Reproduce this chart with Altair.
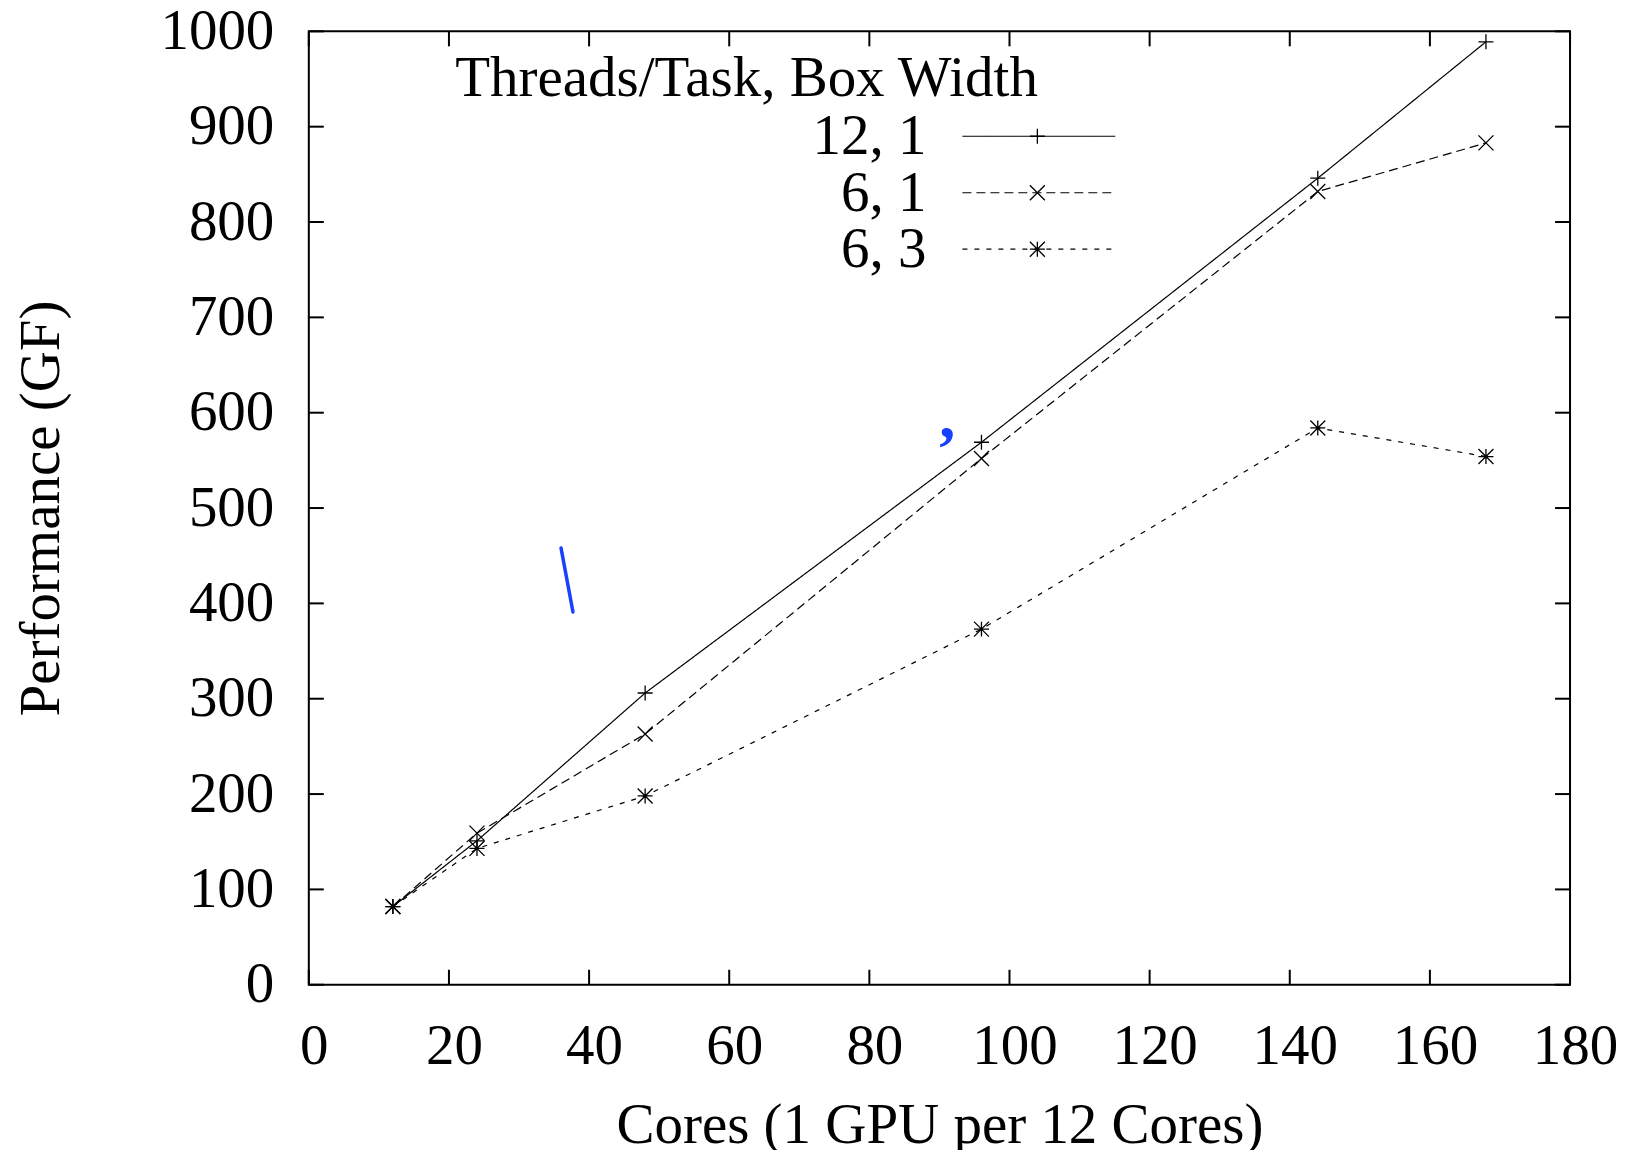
import altair as alt
import pandas as pd

# ---- data ----
cores = [12, 24, 48, 96, 144, 168]
series_names = ["12, 1", "6, 1", "6, 3"]
perf_12_1 = [82, 151, 306, 569, 846, 989]
perf_6_1 = [82, 159, 263, 552, 832, 883]
perf_6_3 = [82, 143, 198, 373, 584, 554]
legend_title = "Threads/Task, Box Width"
x_ticks = [0, 20, 40, 60, 80, 100, 120, 140, 160, 180]
y_ticks = [0, 100, 200, 300, 400, 500, 600, 700, 800, 900, 1000]

# blue annotation scribbles present in the reference
blue_stroke_x = [36.0, 37.7]
blue_stroke_y = [458, 391]
blue_comma_x = [91.1]
blue_comma_y = [575]

# ---- layout ----
W, H = 1262, 954
FONT = "Liberation Serif"
FS = 57
TICK = 15
BLUE = "#1740ff"

rows = []
for name, vals in zip(series_names, [perf_12_1, perf_6_1, perf_6_3]):
    for c, v in zip(cores, vals):
        rows.append({"cores": c, "perf": v, "series": name})
df = pd.DataFrame(rows)

dash_range = [[1, 0], [9, 5], [5, 7]]
plus = "M-1,0L1,0M0,-1L0,1"
cross = "M-1,-1L1,1M-1,1L1,-1"
star = "M-1,0L1,0M0,-1L0,1M-1,-1L1,1M-1,1L1,-1"
shape_range = [plus, cross, star]

xscale = alt.Scale(domain=[0, 180], nice=False, zero=False)
yscale = alt.Scale(domain=[0, 1000], nice=False, zero=False)

x_axis = alt.Axis(values=x_ticks, format="d", title="Cores (1 GPU per 12 Cores)", labelPadding=34,
                  labelFlush=False, labelOffset=5,
                  titleX=W / 2, titleY=141, titleBaseline="middle", titleAlign="center")
y_axis = alt.Axis(values=y_ticks, format="d", title="Performance (GF)", labelPadding=35,
                  labelFlush=False,
                  titleX=-267, titleY=H / 2, titleBaseline="middle", titleAlign="center")

lines = alt.Chart(df).mark_line(color="black", strokeWidth=1.2).encode(
    x=alt.X("cores:Q", scale=xscale, axis=x_axis),
    y=alt.Y("perf:Q", scale=yscale, axis=y_axis),
    strokeDash=alt.StrokeDash("series:N", scale=alt.Scale(domain=series_names, range=dash_range), legend=None),
    detail="series:N",
)

points = alt.Chart(df).mark_point(color="black", filled=False, size=225, strokeWidth=1.3, opacity=1).encode(
    x=alt.X("cores:Q", scale=xscale),
    y=alt.Y("perf:Q", scale=yscale),
    shape=alt.Shape("series:N", scale=alt.Scale(domain=series_names, range=shape_range), legend=None),
)

# inward ticks on all four sides (gnuplot style)
xt = pd.DataFrame({"t": x_ticks})
yt = pd.DataFrame({"t": y_ticks})
tick_bottom = alt.Chart(xt).mark_rule(color="black", strokeWidth=2).encode(
    x=alt.X("t:Q", scale=xscale), y=alt.value(H), y2=alt.value(H - TICK))
tick_top = alt.Chart(xt).mark_rule(color="black", strokeWidth=2).encode(
    x=alt.X("t:Q", scale=xscale), y=alt.value(0), y2=alt.value(TICK))
tick_left = alt.Chart(yt).mark_rule(color="black", strokeWidth=2).encode(
    y=alt.Y("t:Q", scale=yscale), x=alt.value(0), x2=alt.value(TICK))
tick_right = alt.Chart(yt).mark_rule(color="black", strokeWidth=2).encode(
    y=alt.Y("t:Q", scale=yscale), x=alt.value(W - TICK), x2=alt.value(W))

# blue annotations
blue_df = pd.DataFrame({"x": [blue_stroke_x[0]], "x2": [blue_stroke_x[1]],
                        "y": [blue_stroke_y[0]], "y2": [blue_stroke_y[1]]})
blue_line = alt.Chart(blue_df).mark_rule(color=BLUE, strokeWidth=3.5, strokeCap="round").encode(
    x=alt.X("x:Q", scale=xscale), x2="x2:Q", y=alt.Y("y:Q", scale=yscale), y2="y2:Q")
comma_df = pd.DataFrame({"x": blue_comma_x, "y": blue_comma_y})
blue_comma = alt.Chart(comma_df).mark_text(text=",", color=BLUE, font=FONT, fontSize=64,
                                           fontWeight="bold", baseline="alphabetic", align="center").encode(
    x=alt.X("x:Q", scale=xscale), y=alt.Y("y:Q", scale=yscale))

# manual gnuplot-style key
dummy = pd.DataFrame({"a": [0]})
key_layers = [
    alt.Chart(dummy).mark_text(font=FONT, fontSize=FS, color="black", align="center", baseline="middle").encode(
        x=alt.value(438), y=alt.value(48), text=alt.value(legend_title))
]
row_y0, row_dy = 105, 56.5
line_ends = [807, 807, 803]
for i, name in enumerate(series_names):
    ry = row_y0 + i * row_dy
    key_layers.append(alt.Chart(dummy).mark_text(font=FONT, fontSize=FS, color="black", align="right",
                                                 baseline="middle").encode(
        x=alt.value(618), y=alt.value(ry + 1), text=alt.value(name)))
    key_layers.append(alt.Chart(dummy).mark_rule(color="black", strokeWidth=1.2, strokeDash=dash_range[i]).encode(
        x=alt.value(654), x2=alt.value(line_ends[i]), y=alt.value(ry)))
    key_layers.append(alt.Chart(dummy).mark_point(color="black", filled=False, size=225, strokeWidth=1.3,
                                                  opacity=1, shape=shape_range[i]).encode(
        x=alt.value(729), y=alt.value(ry)))

chart = alt.layer(lines, points, tick_bottom, tick_top, tick_left, tick_right,
                  blue_line, blue_comma, *key_layers).properties(
    width=W, height=H,
    background="white",
    autosize=alt.AutoSizeParams(type="none"),
    padding={"left": 301, "top": 23, "right": 53, "bottom": 165},
).configure_view(stroke="black", strokeWidth=2).configure_axis(
    ticks=False, tickSize=0, domain=False, grid=False,
    labelFont=FONT, labelFontSize=FS, labelColor="black",
    titleFont=FONT, titleFontSize=FS, titleFontWeight="normal", titleColor="black",
)

chart.save("out.html", embed_options={"renderer": "svg", "actions": False})
